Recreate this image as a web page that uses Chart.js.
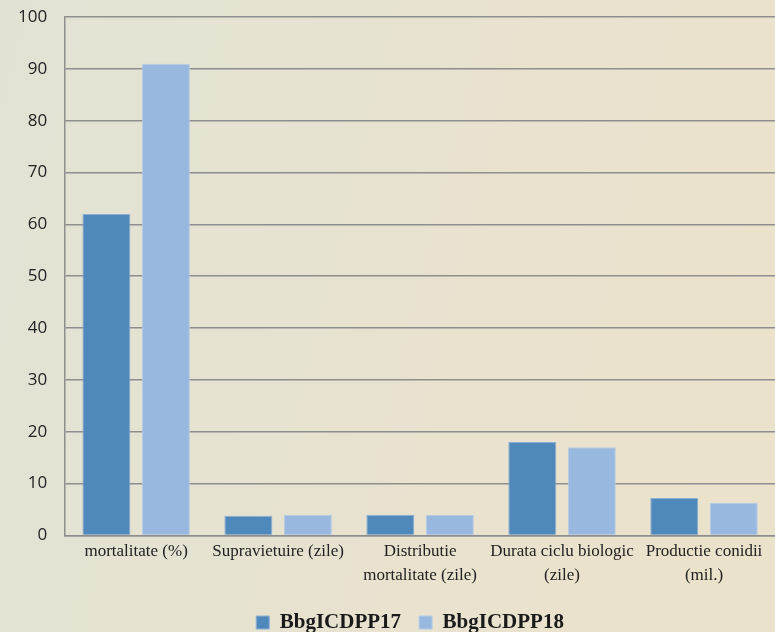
<!DOCTYPE html>
<html>
<head>
<meta charset="utf-8">
<script src="https://cdn.jsdelivr.net/npm/chart.js@4/dist/chart.umd.min.js"></script>
<style>
  html, body { margin: 0; padding: 0; }
  body { width: 775px; height: 632px; overflow: hidden; }
  #wrap { width: 775px; height: 632px; position: relative; }
</style>
</head>
<body>
<div id="wrap"><canvas id="c"></canvas></div>
<script>
// Categories (multi-line labels) and values for the two isolates
const categories = [
  'mortalitate (%)',
  'Supravietuire (zile)',
  ['Distributie', 'mortalitate (zile)'],
  ['Durata ciclu biologic', '(zile)'],
  ['Productie conidii', '(mil.)']
];
const seriesNames = ['BbgICDPP17', 'BbgICDPP18'];
const valuesP17 = [62, 3.8, 4, 18, 7.2];
const valuesP18 = [91, 4, 4, 17, 6.3];
const yTicks = [0, 10, 20, 30, 40, 50, 60, 70, 80, 90, 100];

// Soft horizontal gradient behind the whole chart
const backgroundPlugin = {
  id: 'bg',
  beforeDraw(chart) {
    const { ctx, width, height } = chart;
    const g = ctx.createLinearGradient(0, 0, width, height * 0.3);
    g.addColorStop(0, '#e2e2d4');
    g.addColorStop(1, '#ebe2cc');
    ctx.save();
    ctx.fillStyle = g;
    ctx.fillRect(0, 0, width, height);
    ctx.restore();
  }
};

// Center the legend under the plot area rather than the whole canvas
const legendShiftPlugin = {
  id: 'legendShift',
  afterLayout(chart) {
    const lg = chart.legend;
    if (!lg) return;
    const shift = (chart.chartArea.left) / 2 - 10;
    lg.left += shift;
    lg.right += shift;
  }
};

new Chart(document.getElementById('c'), {
  type: 'bar',
  data: {
    labels: categories,
    datasets: [
      {
        label: seriesNames[0],
        data: valuesP17,
        backgroundColor: '#4f88bb',
        borderColor: '#8fb0d3',
        borderWidth: 1
      },
      {
        label: seriesNames[1],
        data: valuesP18,
        backgroundColor: '#98b8e0',
        borderColor: '#b5cbe6',
        borderWidth: 1
      }
    ]
  },
  options: {
    responsive: true,
    maintainAspectRatio: false,
    animation: false,
    devicePixelRatio: 1,
    layout: { padding: { top: 17, right: 0, left: 0, bottom: -11 } },
    datasets: {
      bar: { categoryPercentage: 0.838, barPercentage: 0.807 }
    },
    plugins: {
      tooltip: { enabled: false },
      legend: {
        position: 'bottom',
        labels: {
          boxWidth: 13,
          boxHeight: 13,
          padding: 18,
          color: '#1a1a1a',
          font: { family: '"Liberation Serif", "DejaVu Serif", serif', size: 21, weight: 'bold' }
        }
      }
    },
    scales: {
      x: {
        grid: { display: false },
        border: { display: true, color: '#8e8e8e', width: 1.5 },
        afterFit(scale) { scale.height += 11; },
        ticks: {
          color: '#222',
          padding: -4,
          maxRotation: 0,
          autoSkip: false,
          font: { family: '"Liberation Serif", "DejaVu Serif", serif', size: 17, lineHeight: 1.4 }
        }
      },
      y: {
        min: 0,
        max: 100,
        afterBuildTicks(axis) {
          axis.ticks = yTicks.map(v => ({ value: v }));
        },
        afterFit(scale) { scale.paddingTop = 0; },
        grid: { color: '#8e8e8e', lineWidth: 1.5, drawTicks: false },
        border: { display: true, color: '#8e8e8e', width: 1.5 },
        ticks: {
          color: '#222',
          padding: 18,
          font: { family: '"Open Sans", "Liberation Sans", sans-serif', size: 17 }
        }
      }
    }
  },
  plugins: [backgroundPlugin, legendShiftPlugin]
});
</script>
</body>
</html>
